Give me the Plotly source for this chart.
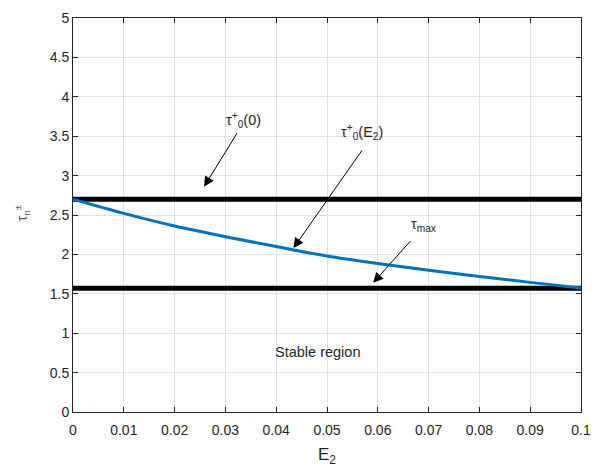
import plotly.graph_objects as go

# Data
e2 = [0.0, 0.01, 0.02, 0.03, 0.04, 0.05, 0.06, 0.07, 0.08, 0.09, 0.1]
tau_e2 = [2.70, 2.52, 2.36, 2.225, 2.10, 1.98, 1.885, 1.80, 1.72, 1.645, 1.575]
tau0_const = 2.70
tau_max = 1.5708
x_ticks = [0, 0.01, 0.02, 0.03, 0.04, 0.05, 0.06, 0.07, 0.08, 0.09, 0.1]
x_ticklabels = ["0", "0.01", "0.02", "0.03", "0.04", "0.05", "0.06", "0.07", "0.08", "0.09", "0.1"]
y_ticks = [0, 0.5, 1, 1.5, 2, 2.5, 3, 3.5, 4, 4.5, 5]
y_ticklabels = ["0", "0.5", "1", "1.5", "2", "2.5", "3", "3.5", "4", "4.5", "5"]

FONT = "Liberation Sans, Arial, Helvetica, sans-serif"
TXT = "#262626"

fig = go.Figure()
fig.add_trace(go.Scatter(x=[0, 0.1], y=[tau0_const, tau0_const], mode="lines",
                         line=dict(color="black", width=5), showlegend=False))
fig.add_trace(go.Scatter(x=[0, 0.1], y=[tau_max, tau_max], mode="lines",
                         line=dict(color="black", width=5), showlegend=False))
fig.add_trace(go.Scatter(x=e2, y=tau_e2, mode="lines",
                         line=dict(color="#0072BD", width=3, shape="spline"), showlegend=False))

axis_common = dict(
    showgrid=True, gridcolor="#e0e0e0", gridwidth=1,
    showline=True, linecolor=TXT, linewidth=1, mirror="ticks",
    ticks="inside", ticklen=5, tickcolor=TXT, tickwidth=1,
    zeroline=False, automargin=False,
    tickfont=dict(family=FONT, size=14, color=TXT),
)
fig.update_xaxes(range=[0, 0.1], tickvals=x_ticks, ticktext=x_ticklabels,
                 ticklabelstandoff=5, **axis_common)
fig.update_yaxes(range=[0, 5], tickvals=y_ticks, ticktext=y_ticklabels, **axis_common)

arrows = [
    # (tail x, tail y, head x, head y)
    (0.0325, 3.56, 0.0258, 2.86),
    (0.0571, 3.34, 0.0434, 2.08),
    (0.0667, 2.19, 0.0591, 1.64),
]
for (tx, ty, hx, hy) in arrows:
    fig.add_annotation(x=hx, y=hy, ax=tx, ay=ty, xref="x", yref="y", axref="x", ayref="y",
                       text="", showarrow=True, arrowhead=2, arrowsize=2, arrowwidth=1,
                       arrowcolor="black")

labels = [
    (0.0335, 3.70, "τ<sup>+</sup><sub>0</sub>(0)"),
    (0.0568, 3.55, "τ<sup>+</sup><sub>0</sub>(E<sub>2</sub>)"),
    (0.0690, 2.37, "τ<sub>max</sub>"),
    (0.0481, 0.76, "Stable region"),
]
for (lx, ly, t) in labels:
    fig.add_annotation(x=lx, y=ly, xref="x", yref="y", text=t, showarrow=False,
                       xanchor="center", yanchor="middle",
                       font=dict(family=FONT, size=14.5, color=TXT))

# axis labels
fig.add_annotation(x=0.5, y=-0.112, xref="paper", yref="paper", text="E<sub>2</sub>",
                   showarrow=False, xanchor="center", yanchor="middle",
                   font=dict(family=FONT, size=17, color=TXT))
fig.add_annotation(x=-0.10, y=0.505, xref="paper", yref="paper",
                   text="τ<sub>n</sub><sup>±</sup>", textangle=-90,
                   showarrow=False, xanchor="center", yanchor="middle",
                   font=dict(family=FONT, size=14, color="#555555"))

fig.update_layout(
    width=592, height=467,
    margin=dict(l=73, r=11, t=18, b=55),
    paper_bgcolor="white", plot_bgcolor="white",
    font=dict(family=FONT, color=TXT),
)

fig.write_html("out.html")
